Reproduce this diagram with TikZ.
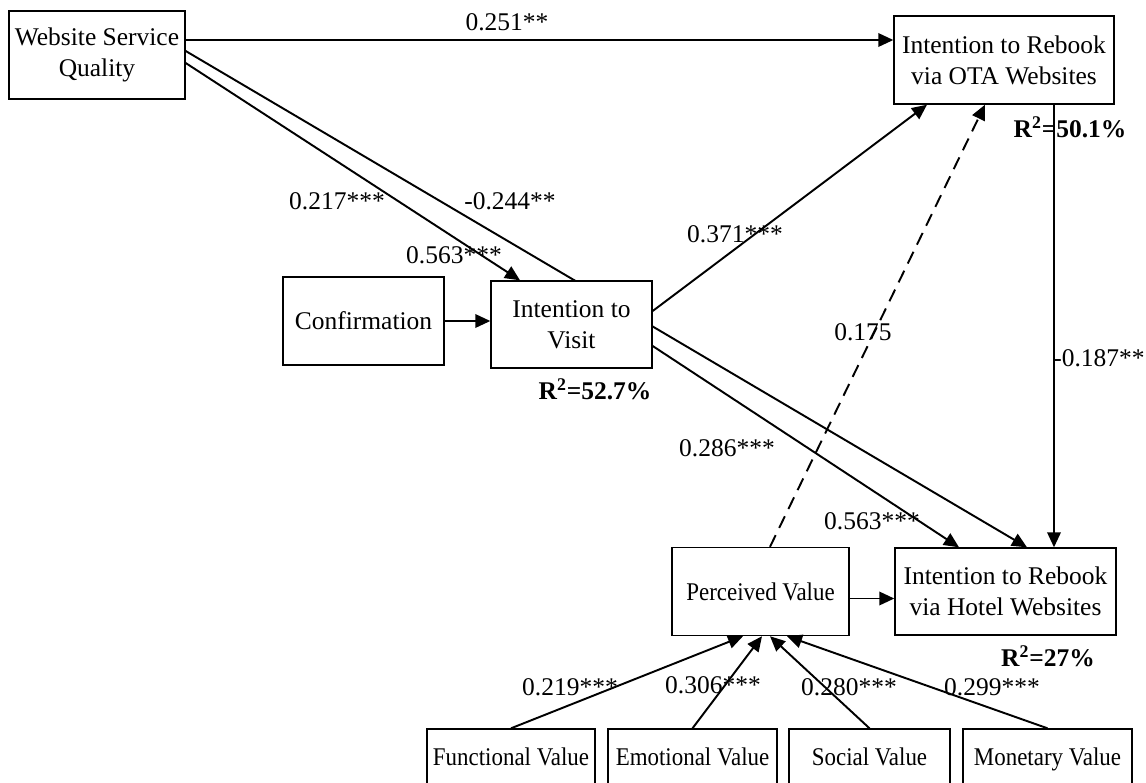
\documentclass[tikz,border=0pt]{standalone}
\usepackage{fontspec}
\setmainfont{Liberation Serif}
\newfontfamily\narrowserif[FakeStretch=0.9]{Liberation Serif}
\usetikzlibrary{arrows.meta,backgrounds}

\begin{document}
\begin{tikzpicture}[every node/.style={font=\fontsize{14.5}{17.5}\selectfont},
    box/.style={draw,line width=0.8pt,fill=white,inner sep=0pt,align=center},
    smallbox/.style={box,font=\fontsize{14.5}{17.5}\selectfont\narrowserif},
    valbox/.style={smallbox,minimum height=1.2cm,text depth=0.5ex},
    arr/.style={line width=1.1pt,-{Triangle[length=0.3cm,width=0.27cm]}},
    coef/.style={inner sep=0pt},
    rsq/.style={inner sep=0pt,font=\fontsize{14.5}{17.5}\selectfont\bfseries}]
      \useasboundingbox (0,0) rectangle (22.92,-15.64);
      \clip (0,0) rectangle (22.92,-15.64);
      % Constructs
      \node[box,minimum width=3.52cm,minimum height=1.76cm] (wsq) at (1.94,-1.10) {Website Service\\Quality};
      \node[box,minimum width=4.40cm,minimum height=1.76cm] (ota) at (20.08,-1.20) {Intention to Rebook\\via OTA Websites};
      \node[box,minimum width=3.22cm,minimum height=1.76cm] (conf) at (7.27,-6.42) {Confirmation};
      \node[box,minimum width=3.22cm,minimum height=1.74cm] (itv) at (11.43,-6.49) {Intention to\\Visit};
      \node[smallbox,minimum width=3.54cm,minimum height=1.76cm] (pv) at (15.21,-11.83) {Perceived Value};
      \node[box,minimum width=4.42cm,minimum height=1.74cm] (hotel) at (20.11,-11.83) {Intention to Rebook\\via Hotel Websites};
      % Value dimensions (cut by the lower edge)
      \node[valbox,minimum width=3.36cm] (fv) at (10.22,-15.18) {Functional Value};
      \node[valbox,minimum width=3.38cm] (ev) at (13.85,-15.18) {Emotional Value};
      \node[valbox,minimum width=3.22cm] (sv) at (17.39,-15.18) {Social Value};
      \node[valbox,minimum width=3.38cm] (mv) at (20.95,-15.18) {Monetary Value};
      % Direct path behind Intention to Visit
      \begin{scope}[on background layer]
        \draw[arr] ([yshift=0.08cm]wsq.east) -- ([xshift=0.43cm]hotel.north);
      \end{scope}
      % Paths
      \coordinate (w1) at ([yshift=0.30cm]wsq.east);
      \draw[arr] (w1) -- (w1 -| ota.west);
      \draw[arr] ([yshift=-0.16cm]wsq.east) -- ([xshift=-1.03cm]itv.north);
      \draw[arr] (conf.east) -- (conf.east -| itv.west);
      \draw[arr] ([yshift=0.27cm]itv.east) -- ([xshift=-1.54cm]ota.south);
      \draw[arr] ([yshift=-0.43cm]itv.east) -- ([xshift=-0.93cm]hotel.north);
      \draw[arr,dash pattern=on 0.26cm off 0.16cm] ([xshift=0.19cm]pv.north) -- ([xshift=-0.38cm]ota.south);
      \coordinate (o1) at ([xshift=1.0cm]ota.south);
      \draw[arr] (o1) -- (o1 |- hotel.north);
      \coordinate (p1) at ([yshift=-0.14cm]pv.east);
      \draw[arr] (p1) -- (p1 -| hotel.west);
      % Value dimensions to perceived value
      \draw[arr] (fv.north) -- ([xshift=-0.35cm]pv.south);
      \draw[arr] (ev.north) -- ([xshift=0.03cm]pv.south);
      \draw[arr] (sv.north) -- ([xshift=0.19cm]pv.south);
      \draw[arr] (mv.north) -- ([xshift=0.53cm]pv.south);
      % Coefficients
      \node[coef] (c251) at (10.14,-0.44) {0.251**};
      \node[coef] (c217) at (6.74,-4.02) {0.217***};
      \node[coef] (c244) at (10.20,-4.02) {-0.244**};
      \node[coef] (c563a) at (9.08,-5.10) {0.563***};
      \node[coef] (c371) at (14.70,-4.68) {0.371***};
      \node[coef] (c175) at (17.26,-6.64) {0.175};
      \node[coef] (c187) at (21.98,-7.16) {-0.187**};
      \node[coef] (c286) at (14.54,-8.96) {0.286***};
      \node[coef] (c563b) at (17.44,-10.42) {0.563***};
      \node[coef] (c219) at (11.40,-13.74) {0.219***};
      \node[coef] (c306) at (14.26,-13.70) {0.306***};
      \node[coef] (c280) at (16.98,-13.74) {0.280***};
      \node[coef] (c299) at (19.84,-13.74) {0.299***};
      % Explained variance
      \node[rsq] (r2itv) at (11.90,-7.78) {R\textsuperscript{2}=52.7\%};
      \node[rsq] (r2ota) at (21.40,-2.54) {R\textsuperscript{2}=50.1\%};
      \node[rsq] (r2hotel) at (20.96,-13.12) {R\textsuperscript{2}=27\%};
    \end{tikzpicture}
\end{document}
